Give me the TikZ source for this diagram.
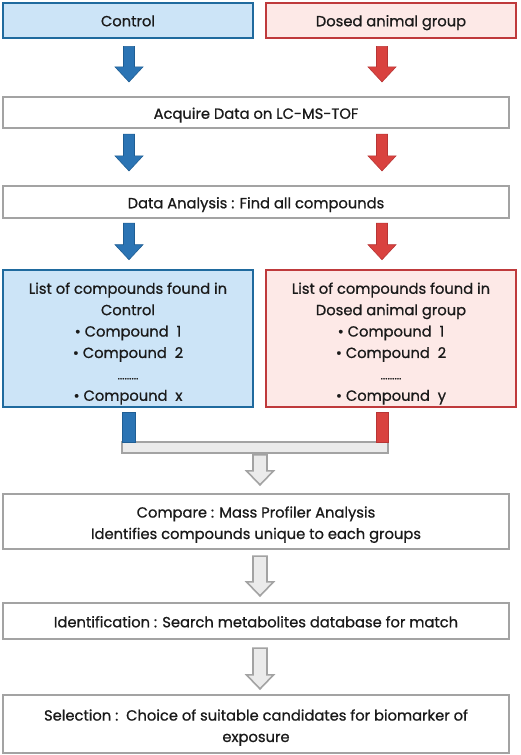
\documentclass[tikz,border=0pt]{standalone}
\usepackage{fontspec}
\setmainfont{Poppins}[FakeBold=0.8]
\usetikzlibrary{calc}
\definecolor{bluefill}{HTML}{CCE4F7}
\definecolor{blueline}{HTML}{1F6A9E}
\definecolor{bluearrow}{HTML}{2B74B4}
\definecolor{bluearrowline}{HTML}{1F5E94}
\definecolor{redfill}{HTML}{FDE9E7}
\definecolor{redline}{HTML}{BF3A3C}
\definecolor{redarrow}{HTML}{D9423F}
\definecolor{redarrowline}{HTML}{B83535}
\definecolor{grayline}{HTML}{A3A3A3}
\definecolor{grayfill}{HTML}{EBEBEB}
\definecolor{textcol}{HTML}{1A1A1A}
\newcommand{\blkarrow}[6]{%
  \filldraw[#6] let \p1=(#1), \p2=(#2) in
    (\x1-#3,\y1) -- (\x1+#3,\y1) -- (\x1+#3,\y2+#5) -- (\x1+#4,\y2+#5)
    -- (\x1,\y2) -- (\x1-#4,\y2+#5) -- (\x1-#3,\y2+#5) -- cycle;}
\newcommand{\tx}[2][2pt]{\raisebox{-#1}[\height][\depth]{\begin{tabular}{@{}c@{}}#2\end{tabular}}}
\tikzset{
  every node/.style={font=\fontsize{14.7}{21.4}\selectfont, text=textcol, inner sep=0pt},
  bluebox/.style={draw=blueline, fill=bluefill, line width=2.6pt},
  redbox/.style={draw=redline, fill=redfill, line width=2.6pt},
  graybox/.style={draw=grayline, fill=white, line width=2.2pt, minimum width=506pt},
  bluearr/.style={fill=bluearrow, draw=bluearrowline, line width=0.6pt},
  redarr/.style={fill=redarrow, draw=redarrowline, line width=0.6pt},
  grayarr/.style={fill=grayfill, draw=grayline, line width=1.6pt},
}
\begin{document}
\begin{tikzpicture}[x=1pt, y=-1pt]
\useasboundingbox (0,0) rectangle (520,755);
% top boxes
\node[bluebox, minimum width=250pt, minimum height=35pt] (ctl) at (128,20.5) {\tx[1.5pt]{Control}};
\node[redbox, minimum width=250pt, minimum height=35pt] (dos) at (391,20.5) {\tx[1.5pt]{Dosed animal group}};
\node[graybox, minimum height=31pt] (acq) at (256,112.5) {\tx{Acquire Data on LC-MS-TOF}};
\node[graybox, minimum height=32pt] (ana) at (256,202) {\tx{Data Analysis : Find all compounds}};
\node[bluebox, minimum width=250pt, minimum height=137pt] (lc) at (128,338.5)
  {\tx[4.5pt]{List of compounds found in\\Control\\\textbullet\ Compound\ \ 1\\\textbullet\ Compound\ \ 2\\{\fontsize{11}{21.4}\selectfont .........}\\\textbullet\ Compound\ \ x}};
\node[redbox, minimum width=250pt, minimum height=137pt] (ld) at (391,338.5)
  {\tx[4.5pt]{List of compounds found in\\Dosed animal group\\\textbullet\ Compound\ \ 1\\\textbullet\ Compound\ \ 2\\{\fontsize{11}{21.4}\selectfont .........}\\\textbullet\ Compound\ \ y}};
% collector bar
\node[draw=grayline, fill=grayfill, line width=1.6pt, minimum width=266pt, minimum height=11pt] (bar) at (255,447.5) {};
\node[fill=bluearrow, draw=bluearrowline, line width=0.6pt, minimum width=13pt, minimum height=30pt] (bstub) at (129,427) {};
\node[fill=redarrow, draw=redarrowline, line width=0.6pt, minimum width=12pt, minimum height=30pt] (rstub) at (382,427) {};
\node[graybox, minimum height=55pt] (cmp) at (256,521.5) {\tx[2.5pt]{Compare : Mass Profiler Analysis\\Identifies compounds unique to each groups}};
\node[graybox, minimum height=36pt] (idn) at (256,621) {\tx{Identification : Search metabolites database for match}};
\node[graybox, minimum height=58pt] (sel) at (256,724) {\tx[3pt]{Selection :\ \ Choice of suitable candidates for biomarker of\\exposure}};
% arrow anchor coordinates
\coordinate (b1s) at ($(ctl.south)+(1,7)$);
\coordinate (b1e) at ($(acq.north -| b1s)+(0,-14)$);
\coordinate (r1s) at ($(dos.south -| b1s)+(253,7)$);
\coordinate (r1e) at ($(acq.north -| r1s)+(0,-14)$);
\coordinate (b2s) at ($(acq.south -| b1s)+(0,5)$);
\coordinate (b2e) at ($(ana.north -| b1s)+(0,-14)$);
\coordinate (r2s) at ($(acq.south -| r1s)+(0,5)$);
\coordinate (r2e) at ($(ana.north -| r1s)+(0,-14)$);
\coordinate (b3s) at ($(ana.south -| b1s)+(0,4)$);
\coordinate (b3e) at ($(lc.north -| b1s)+(0,-9)$);
\coordinate (r3s) at ($(ana.south -| r1s)+(0,4)$);
\coordinate (r3e) at ($(ld.north -| r1s)+(0,-9)$);
\coordinate (g1s) at ($(bar.south)+(5,1)$);
\coordinate (g1e) at ($(cmp.north -| g1s)+(0,-8)$);
\coordinate (g2s) at ($(cmp.south -| g1s)+(0,6)$);
\coordinate (g2e) at ($(idn.north -| g1s)+(0,-6)$);
\coordinate (g3s) at ($(idn.south -| g1s)+(0,8)$);
\coordinate (g3e) at ($(sel.north -| g1s)+(0,-5)$);
\blkarrow{b1s}{b1e}{5.5pt}{14pt}{15pt}{bluearr}
\blkarrow{r1s}{r1e}{5.5pt}{14pt}{15pt}{redarr}
\blkarrow{b2s}{b2e}{5.5pt}{14pt}{15pt}{bluearr}
\blkarrow{r2s}{r2e}{5.5pt}{14pt}{15pt}{redarr}
\blkarrow{b3s}{b3e}{5.5pt}{14pt}{15pt}{bluearr}
\blkarrow{r3s}{r3e}{5.5pt}{14pt}{15pt}{redarr}
\blkarrow{g1s}{g1e}{7pt}{13.5pt}{14pt}{grayarr}
\blkarrow{g2s}{g2e}{7pt}{13.5pt}{14pt}{grayarr}
\blkarrow{g3s}{g3e}{7pt}{13.5pt}{14pt}{grayarr}
\end{tikzpicture}
\end{document}
